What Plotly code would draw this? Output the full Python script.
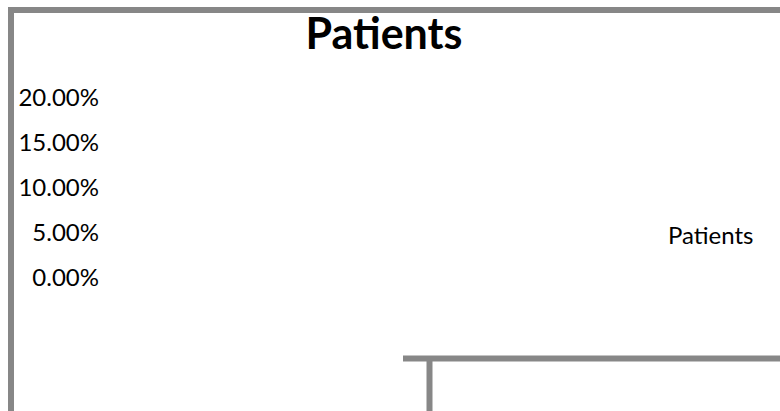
import plotly.graph_objects as go

# Chart content: a patient-share series with no recorded values yet
categories = []
patient_share = []
series_name = "Patients"
chart_title = "Patients"
y_tick_values = [0.0, 0.05, 0.10, 0.15, 0.20]

W, H = 780, 411
BORDER = "#878787"
FONT = "Lato, 'Open Sans', sans-serif"


def py(px):
    """Convert a pixel row (from the top) to paper y."""
    return 1 - px / H


def pxx(px):
    return px / W


fig = go.Figure()
# the (empty) series itself
fig.add_trace(go.Bar(
    x=categories,
    y=patient_share,
    name=series_name,
    marker=dict(color="rgba(0,0,0,0)"),
    showlegend=False,
))
# legend entry for the series (no visible key)
fig.add_trace(go.Scatter(
    x=[None], y=[None],
    mode="lines",
    name=series_name,
    line=dict(color="rgba(0,0,0,0)"),
    showlegend=True,
    hoverinfo="skip",
))

shapes = [
    # chart frame, top and left edges
    dict(type="line", xref="paper", yref="paper",
         x0=pxx(8), x1=pxx(790), y0=py(10), y1=py(10),
         line=dict(color=BORDER, width=6)),
    dict(type="line", xref="paper", yref="paper",
         x0=pxx(11), x1=pxx(11), y0=py(7), y1=py(420),
         line=dict(color=BORDER, width=6)),
    # inner frame fragment at the bottom right
    dict(type="line", xref="paper", yref="paper",
         x0=pxx(403), x1=pxx(790), y0=py(358.5), y1=py(358.5),
         line=dict(color=BORDER, width=6)),
    dict(type="line", xref="paper", yref="paper",
         x0=pxx(429.5), x1=pxx(429.5), y0=py(358), y1=py(420),
         line=dict(color=BORDER, width=6)),
]

fig.update_layout(
    width=W, height=H,
    margin=dict(l=0, r=0, t=0, b=0, pad=0, autoexpand=False),
    paper_bgcolor="white",
    plot_bgcolor="rgba(0,0,0,0)",
    font=dict(family=FONT, color="black"),
    showlegend=True,
    title=dict(text="<b>%s</b>" % chart_title, x=pxx(384), xanchor="center",
               y=py(34), yanchor="middle", automargin=False,
               font=dict(family=FONT, size=43, color="black")),
    xaxis=dict(domain=[pxx(100), pxx(600)], visible=False, automargin=False),
    yaxis=dict(domain=[py(278), py(98)], range=[0, 0.2],
               tickvals=y_tick_values, tickformat=".2%", automargin=False,
               showgrid=False, zeroline=False, showline=False,
               ticks="", tickfont=dict(family=FONT, size=24, color="black")),
    legend=dict(x=pxx(628), y=py(235), xanchor="left", yanchor="middle",
                font=dict(family=FONT, size=24, color="black"),
                bgcolor="rgba(0,0,0,0)"),
    shapes=shapes,
)

fig.write_html("out.html")
